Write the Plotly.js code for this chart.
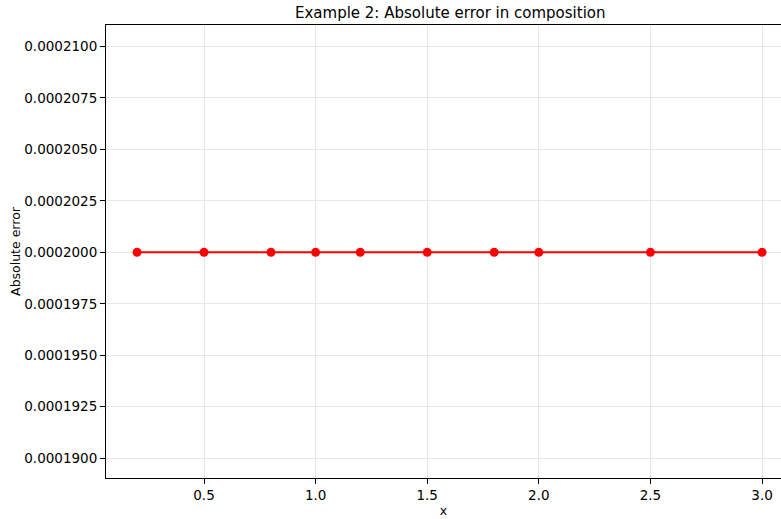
<!DOCTYPE html>
<html>
<head>
<meta charset="utf-8">
<script src="https://cdn.plot.ly/plotly-3.0.1.min.js"></script>
<style>html,body{margin:0;padding:0;background:#fff;}#chart{width:781px;height:519px;}</style>
</head>
<body>
<div id="chart"></div>
<script>
const xValues = [0.2, 0.5, 0.8, 1.0, 1.2, 1.5, 1.8, 2.0, 2.5, 3.0];
const absError = [0.0002, 0.0002, 0.0002, 0.0002, 0.0002, 0.0002, 0.0002, 0.0002, 0.0002, 0.0002];
const xTicks = [0.5, 1.0, 1.5, 2.0, 2.5, 3.0];
const xTickLabels = ["0.5", "1.0", "1.5", "2.0", "2.5", "3.0"];
const yTicks = [0.00019, 0.0001925, 0.000195, 0.0001975, 0.0002, 0.0002025, 0.000205, 0.0002075, 0.00021];
const yTickLabels = ["0.0001900", "0.0001925", "0.0001950", "0.0001975", "0.0002000", "0.0002025", "0.0002050", "0.0002075", "0.0002100"];

const font = "DejaVu Sans";
const trace = {
  x: xValues, y: absError, mode: "lines+markers", type: "scatter",
  line: {color: "#ff0000", width: 2},
  marker: {color: "#ff0000", size: 9},
  showlegend: false
};
const layout = {
  width: 781, height: 519,
  margin: {l: 106, r: 0, t: 25, b: 41},
  paper_bgcolor: "#fff", plot_bgcolor: "#fff",
  font: {family: font, size: 13.5, color: "#000"},
  title: {text: "Example 2: Absolute error in composition", font: {family: font, size: 15, color: "#000"},
          x: 0.51, xref: "paper", xanchor: "center", y: 0.975, yref: "container", yanchor: "middle"},
  xaxis: {
    range: [0.0609, 3.085], tickvals: xTicks, ticktext: xTickLabels,
    ticks: "outside", ticklen: 5, tickwidth: 1, tickcolor: "#000",
    tickfont: {family: font, size: 13.5},
    showgrid: true, gridcolor: "#e8e8e8", gridwidth: 1, zeroline: false,
    showline: true, linecolor: "#000", linewidth: 1, mirror: true,
    title: {text: "x", font: {family: font, size: 12.5}, standoff: 4},
    automargin: false
  },
  yaxis: {
    range: [0.00018904, 0.00021104], tickvals: yTicks, ticktext: yTickLabels,
    ticks: "outside", ticklen: 5, tickwidth: 1, tickcolor: "#000",
    tickfont: {family: font, size: 13.5},
    showgrid: true, gridcolor: "#e8e8e8", gridwidth: 1, zeroline: false,
    showline: true, linecolor: "#000", linewidth: 1, mirror: false,
    title: {text: "Absolute error", font: {family: font, size: 12.5}, standoff: 0},
    automargin: false
  }
};
Plotly.newPlot("chart", [trace], layout, {displayModeBar: false, staticPlot: true});
</script>
</body>
</html>
